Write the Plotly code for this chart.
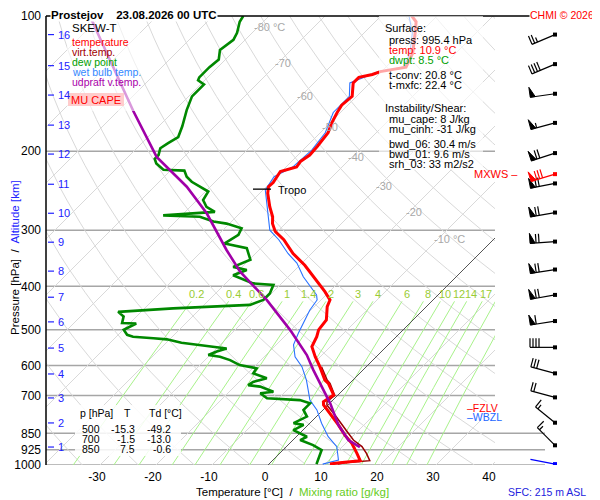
import numpy as np
import plotly.graph_objects as go

# ---------------- data ----------------
station = 'Prostejov'
obs_time = '23.08.2026 00 UTC'

# temperature [hPa] / [degC]
temp_p = [100, 103, 109, 121, 130, 133, 135, 137, 141, 151, 158, 164, 173, 182, 195, 204, 211, 217, 222, 228,
          235, 240, 248, 266, 280, 290, 302, 315, 338, 359, 381, 391, 411, 429, 444, 475, 500, 518, 545, 574,
          604, 647, 658, 698, 723, 735, 767, 814, 858, 895, 942, 978, 988, 995.4]
temp_t = [-54.5, -52.7, -50.9, -47.7, -46.4, -50.2, -51.1, -53.0, -53.0, -50.8, -51.1, -50.6, -49.7, -48.6,
          -48.1, -47.9, -48.4, -48.1, -50.2, -49.8, -49.5, -49.6, -48.6, -45.8, -43.5, -42.3, -40.4, -37.4,
          -33.3, -29.1, -25.5, -23.8, -20.8, -18.4, -17.7, -15.5, -15.1, -14.2, -13.3, -10.9, -8.3, -5.0,
          -3.8, -0.8, -1.4, -0.8, 1.8, 5.4, 8.4, 11.1, 13.8, 15.7, 12.4, 10.9]

# virtual temperature (visible part only)
virt_p = [604, 647, 658, 700, 722, 735, 780, 814, 843, 880, 910, 942, 978, 988, 995.4]
virt_t = [-8.0, -4.6, -3.5, -0.5, -0.8, -0.2, 3.5, 6.0, 8.2, 10.8, 13.5, 15.5, 17.4, 13.3, 12.3]

# dew point
dewp_p = [100, 103, 109, 113, 119, 125, 130, 137, 139, 142, 151, 162, 176, 186, 192, 197, 204, 208, 213, 220,
          221, 228, 234, 240, 246, 257, 266, 273, 275, 278, 280, 287, 290, 297, 307, 321, 329, 349, 362, 368,
          378, 394, 397, 415, 429, 440, 448, 452, 456, 467, 483, 484, 500, 513, 518, 522, 525, 534, 540, 550,
          559, 569, 574, 584, 599, 609, 625, 641, 653, 664, 669, 687, 692, 710, 717, 729, 754, 780, 807, 814,
          836, 865, 880, 903, 926, 975, 995.4]
dewp_t = [-84.6, -84.2, -82.7, -82.1, -82.7, -81.2, -81.5, -81.5, -81.2, -79.4, -79.4, -77.9, -75.8, -74.6,
          -75.3, -75.8, -74.9, -74.9, -73.8, -71.4, -67.5, -66.0, -64.2, -61.8, -59.5, -58.9, -57.1, -54.7,
          -58.3, -63.3, -56.5, -53.2, -50.5, -47.0, -46.4, -47.3, -42.5, -39.8, -41.6, -38.6, -40.1, -35.1,
          -31.2, -30.3, -30.3, -31.8, -44.9, -49.9, -54.1, -52.3, -51.4, -48.8, -49.9, -48.4, -47.0, -43.1,
          -40.5, -37.3, -33.6, -28.2, -29.4, -30.3, -27.9, -25.5, -22.9, -19.3, -19.0, -15.7, -17.5, -17.8,
          -15.4, -12.1, -14.2, -12.1, -5.9, -3.5, -3.5, -1.7, -2.9, -0.8, -1.7, 1.9, 1.3, 4.5, 6.9, 8.1, 8.5]

# wet bulb temperature
wetb_p = [100, 109, 121, 130, 133, 141, 151, 164, 182, 199, 217, 228, 244, 266, 290, 300, 315, 338, 355, 381,
          418, 429, 452, 484, 509, 540, 574, 604, 647, 681, 717, 754, 807, 865, 910, 975, 991, 995.4]
wetb_t = [-55.0, -51.4, -48.2, -46.8, -50.5, -53.6, -51.3, -51.3, -49.1, -48.4, -48.8, -50.4, -49.6, -46.3,
          -43.0, -41.6, -38.3, -34.2, -30.9, -27.3, -21.7, -20.7, -20.2, -19.0, -18.1, -16.9, -14.5, -11.5,
          -8.3, -6.2, -4.1, -1.1, 2.1, 5.7, 9.0, 11.7, 10.2, 9.6]

# MU parcel (updraft virtual temperature)
parc_p = [100, 163, 206, 240, 275, 332, 371, 429, 500, 569, 614, 681, 729, 814, 880, 912]
parc_t = [-112.0, -87.2, -74.9, -64.2, -55.9, -45.8, -39.5, -29.7, -20.2, -12.7, -8.9, -3.5, 0.1, 5.4, 9.9, 13.2]

# wind barbs: pressure [hPa], direction [deg], speed [kt]
wind_p = [110, 128, 149, 173, 202, 236, 274, 318, 367, 418, 478, 547, 625, 707, 805, 904]
wind_dir = [247, 247, 262, 255, 252, 259, 260, 266, 261, 260, 261, 270, 285, 285, 309, 315]
wind_spd = [25, 40, 50, 55, 70, 70, 70, 70, 70, 70, 60, 40, 30, 20, 15, 15]
mxws_p, mxws_dir, mxws_spd = 225, 253, 80
sfc_p, sfc_dir, sfc_spd = 995.4, 281, 3

# altitude scale
alt_km = list(range(1, 17))
alt_p = [912, 806, 709, 627, 549, 480, 423, 370, 319, 275, 237, 203, 175, 150, 129, 110]

p_ticks = [100, 200, 300, 400, 500, 600, 700, 850, 925, 1000]
t_ticks = [-30, -20, -10, 0, 10, 20, 30, 40]
mix_ratios = [0.2, 0.4, 0.6, 1, 1.4, 2, 3, 4, 6, 8, 10, 12, 14, 17, 20, 25]
iso_labels = [-80, -70, -60, -50, -40, -30, -20, -10]
iso_label_p = [106, 127, 151, 177, 206, 239, 273, 314]

table_p = [500, 700, 850]
table_t = [-15.3, -1.5, 7.5]
table_td = [-49.2, -13.0, -0.6]

surface_lines = [('Surface:', 'black', 0), ('press: 995.4 hPa', 'black', 1), ('temp: 10.9 °C', 'red', 1),
                 ('dwpt: 8.5 °C', '#00a000', 1), ('t-conv: 20.8 °C', 'black', 1), ('t-mxfc: 22.4 °C', 'black', 1),
                 ('Instability/Shear:', 'black', 0), ('mu_cape: 8 J/kg', 'black', 1),
                 ('mu_cinh: -31 J/kg', 'black', 1), ('bwd_06: 30.4 m/s', 'black', 1),
                 ('bwd_01: 9.6 m/s', 'black', 1), ('srh_03: 33 m2/s2', 'black', 1)]
surface_y = [28, 40, 50, 60, 75, 85, 108, 119, 129, 144, 154, 164]

tropo_p = 243

# ---------------- geometry (page pixels; the page body has an 8px margin) ----------------
OFF = 8
PL, PR, PT, PB = 46, 590, 16, 465        # plot area in page pixels
PW, PH = PR - PL, PB - PT
K = 80.18  # skew: degC per pressure decade
FONT = 'Liberation Sans, Arial, sans-serif'


def skew(t, p):
    return np.asarray(t, float) + K * (3 - np.log10(np.asarray(p, float)))


def xp(px):
    return (px - PL) / PW


def yp(py):
    return (PB - py) / PH


def td_from_w(w, p):
    e = w * p / (622.0 + w)
    l = np.log(e / 6.112)
    return 243.5 * l / (17.67 - l)


fig = go.Figure()


def add_line(x, y, color, width, xaxis='x'):
    fig.add_trace(go.Scatter(x=x, y=y, mode='lines', line=dict(color=color, width=width),
                             xaxis=xaxis, yaxis='y', hoverinfo='skip', showlegend=False))


# background: isotherms and dry adiabats
bx, by = [], []
for t in range(-130, 50, 10):
    if t == 0:
        continue
    bx += [float(skew(t, 1000)), float(skew(t, 100)), None]
    by += [3, 2, None]
pp = np.geomspace(1000, 100, 40)
for th in range(230, 480, 10):
    tt = th * (pp / 1000) ** 0.2857 - 273.15
    bx += list(skew(tt, pp)) + [None]
    by += list(np.log10(pp)) + [None]
add_line(bx, by, '#d9d9d9', 1)

# mixing ratio lines
mx, my = [], []
pw = np.geomspace(1000, 432, 20)
for w in mix_ratios:
    mx += list(skew(td_from_w(w, pw), pw)) + [None]
    my += list(np.log10(pw)) + [None]
add_line(mx, my, '#a8f28a', 1)

# 0 degC isotherm
add_line([float(skew(0, 1000)), float(skew(0, 100))], [3, 2], '#555555', 1)

# profiles
add_line(skew(wetb_t, wetb_p), np.log10(wetb_p), '#2a72ff', 1.1)
add_line(skew(virt_t, virt_p), np.log10(virt_p), '#990000', 1.5)
add_line(skew(temp_t, temp_p), np.log10(temp_p), '#ff0000', 3)
add_line(skew(dewp_t, dewp_p), np.log10(dewp_p), '#008800', 2.6)
add_line(skew(parc_t, parc_p), np.log10(parc_p), '#a000a8', 2.6)


# wind barbs (pixel x on xaxis2, log-pressure y)
def barb(p, wdir, spd):
    a = np.radians(wdir)
    ux, uy = np.sin(a), -np.cos(a)
    fx, fy = -uy, ux
    y0 = np.log10(p)

    def pt(d, h=0.0):
        return 555 + d * ux + h * fx, y0 + (d * uy + h * fy) / PH

    lx, ly, tx, ty = [], [], [], []

    def seg(a1, a2):
        lx.extend([a1[0], a2[0], None])
        ly.extend([a1[1], a2[1], None])

    seg(pt(0), pt(25))
    n50 = spd // 50
    n10 = (spd - 50 * n50) // 10
    n5 = 1 if (spd - 50 * n50 - 10 * n10) >= 5 else 0
    pos = 25.0
    for _ in range(n50):
        tri = [pt(pos), pt(pos, 10), pt(pos - 5), pt(pos)]
        tx += [q[0] for q in tri] + [None]
        ty += [q[1] for q in tri] + [None]
        pos -= 6
    for _ in range(n10):
        seg(pt(pos), pt(pos, 9))
        pos -= 3
    if n5:
        if n50 == 0 and n10 == 0:
            pos -= 3
        seg(pt(pos), pt(pos, 5))
    return lx, ly, tx, ty


def draw_barbs(ps, ds, ss, color):
    LX, LY, TX, TY = [], [], [], []
    for p, d, s in zip(ps, ds, ss):
        lx, ly, tx, ty = barb(p, d, s)
        LX += lx; LY += ly; TX += tx; TY += ty
    fig.add_trace(go.Scatter(x=LX, y=LY, mode='lines', line=dict(color=color, width=1.2),
                             xaxis='x2', yaxis='y', hoverinfo='skip', showlegend=False))
    if TX:
        fig.add_trace(go.Scatter(x=TX, y=TY, mode='lines', fill='toself', fillcolor=color,
                                 line=dict(color=color, width=1), xaxis='x2', yaxis='y',
                                 hoverinfo='skip', showlegend=False))
    fig.add_trace(go.Scatter(x=[555] * len(ps), y=np.log10(ps), mode='markers',
                             marker=dict(symbol='square', size=4, color=color),
                             xaxis='x2', yaxis='y', hoverinfo='skip', showlegend=False))


draw_barbs(wind_p, wind_dir, wind_spd, 'black')
draw_barbs([mxws_p], [mxws_dir], [mxws_spd], '#ff0000')
draw_barbs([sfc_p], [sfc_dir], [sfc_spd], '#0000ff')

# ---------------- shapes ----------------
shapes = []
for p in p_ticks[1:]:
    x1 = xp(545) if p >= 850 else xp(495)
    shapes.append(dict(type='line', xref='paper', yref='y', x0=0, x1=x1, y0=np.log10(p), y1=np.log10(p),
                       line=dict(color='#a6a6a6', width=1.5), layer='below'))
shapes.append(dict(type='line', xref='paper', yref='paper', x0=0, x1=1, y0=1, y1=1,
                   line=dict(color='black', width=1.5)))
shapes.append(dict(type='line', xref='paper', yref='paper', x0=0, x1=0, y0=0, y1=1,
                   line=dict(color='black', width=1.5)))
for p in alt_p:
    shapes.append(dict(type='line', xref='paper', yref='y', x0=xp(48), x1=xp(54), y0=np.log10(p),
                       y1=np.log10(p), line=dict(color='#2222ff', width=1.2)))
# translucent boxes
for (x0, y0, x1, y1, op) in [(67, 16, 140, 111, 0.6), (379, 16, 483, 170, 0.65), (75, 405, 181, 456, 0.85),
                             (463, 402, 505, 421, 0.9)]:
    shapes.append(dict(type='rect', xref='paper', yref='paper', x0=xp(x0), x1=xp(x1), y0=yp(y1), y1=yp(y0),
                       fillcolor='white', opacity=op, line=dict(width=0), layer='above'))
shapes.append(dict(type='rect', xref='paper', yref='paper', x0=xp(68), x1=xp(124), y0=yp(106), y1=yp(93),
                   fillcolor='#ffcccc', line=dict(width=0), layer='above'))
shapes.append(dict(type='line', xref='paper', yref='y', x0=xp(253), x1=xp(271), y0=np.log10(tropo_p),
                   y1=np.log10(tropo_p), line=dict(color='black', width=1.3), layer='above'))

# ---------------- annotations ----------------
ann = []


def text(px, py, s, color='black', size=11, anchor='left', bold=False, vanchor='middle', **kw):
    ann.append(dict(x=xp(px), y=yp(py), xref='paper', yref='paper', text=('<b>%s</b>' % s) if bold else s,
                    showarrow=False, xanchor=anchor, yanchor=vanchor,
                    font=dict(family=FONT, size=size, color=color), **kw))


# the page starts 8px down, so the header hangs from the very top of the figure
text(50, OFF, station + '\u00a0\u00a0\u00a0 ' + obs_time, size=11.5, bold=True, vanchor='top', borderpad=0,
     bgcolor='white')
text(595, OFF, 'CHMI © 2026', color='#ff0000', size=10.5, anchor='right', vanchor='top', borderpad=0,
     bgcolor='white')

# legend
text(70, 28, 'SKEW-T', size=11.5)
for i, (lab, col) in enumerate([('temperature', '#ff0000'), ('virt.temp.', '#a00000'), ('dew point', '#00a000'),
                                ('wet bulb temp.', '#3388ff'), ('udpraft v.temp.', '#aa00aa')]):
    text(70, 42 + 10 * i, lab, color=col, size=10.5)
text(96, 100, 'MU CAPE', color='#ff0000', anchor='center')

# surface info
for (s, col, ind), y in zip(surface_lines, surface_y):
    text(383 + 4 * ind, y, s, color=col)

# table
text(78, 413, 'p [hPa]', size=10.5)
text(127, 413, 'T', anchor='center', size=10.5)
text(147, 413, 'Td [°C]', size=10.5)
for i, (p, t, td) in enumerate(zip(table_p, table_t, table_td)):
    y = 429 + 10 * i
    text(102, y, '%d' % p, anchor='right', size=10.5)
    text(137, y, '%.1f' % t, anchor='right', size=10.5)
    text(173, y, '%.1f' % td, anchor='right', size=10.5)

# altitude labels
for km, p in zip(alt_km, alt_p):
    ann.append(dict(x=xp(56), y=np.log10(p), xref='paper', yref='y', text=str(km), showarrow=False,
                    xanchor='left', yanchor='middle', font=dict(family=FONT, size=11, color='#2222ff')))

# isotherm labels
for t, p in zip(iso_labels, iso_label_p):
    s = '%d °C' % t if t in (-80, -10) else '%d' % t
    ann.append(dict(x=float(skew(t, p)) - 1.0, y=np.log10(p), xref='x', yref='y', text=s, showarrow=False,
                    xanchor='left', yanchor='middle', font=dict(family=FONT, size=11, color='#a8a8a8')))

# mixing ratio labels
for w in mix_ratios:
    ann.append(dict(x=float(skew(td_from_w(w, 416), 416)), y=np.log10(416), xref='x', yref='y',
                    text='%g' % w, showarrow=False, xanchor='center', yanchor='middle',
                    font=dict(family=FONT, size=11, color='#99cc33')))

text(276, 190, 'Tropo')
text(520, 174, 'MXWS –', color='#ff0000', anchor='right')
text(465, 408, '–FZLV', color='#ff0000', size=10.5)
text(465, 417, '–WBZL', color='#2266ff', size=10.5)

text(292, 492, 'Temperature [°C]\u00a0 /\u00a0 <span style="color:#66cc22">Mixing ratio [g/kg]</span>',
     size=11.5, anchor='center')
text(588, 492, 'SFC: 215 m ASL', color='#2222dd', size=10.5, anchor='right')
text(15, 258, 'Pressure [hPa]\u00a0 /\u00a0 <span style="color:#2222ff">Altitude [km]</span>',
     size=11.5, anchor='center', textangle=-90)

# ---------------- layout ----------------
xmin = (PL - 268) / 5.6
xmax = (495 - 268) / 5.6
W, H = 600 - OFF, 500 - OFF
fig.update_layout(
    width=W, height=H,
    margin=dict(l=PL - OFF, r=W - (PR - OFF), t=PT - OFF, b=H - (PB - OFF), pad=0, autoexpand=False),
    paper_bgcolor='white', plot_bgcolor='white',
    showlegend=False, hovermode=False,
    font=dict(family=FONT, size=11, color='black'),
    xaxis=dict(domain=[0, (495 - PL) / PW], range=[xmin, xmax], showgrid=False, zeroline=False,
               tickvals=t_ticks, ticktext=[str(t) for t in t_ticks], tickfont=dict(size=12),
               ticks='', ticklabelshift=-3, ticklabelstandoff=3, showline=False, automargin=False),
    xaxis2=dict(domain=[(495 - PL) / PW, 1], range=[495, 590], visible=False, anchor='y', automargin=False),
    yaxis=dict(range=[3, 2], showgrid=False, zeroline=False, tickvals=list(np.log10(p_ticks)),
               ticktext=[str(p) for p in p_ticks], tickfont=dict(size=12), ticks='',
               ticklabelstandoff=4, showline=False, automargin=False),
    shapes=shapes, annotations=ann,
)

fig.write_html('out.html')
